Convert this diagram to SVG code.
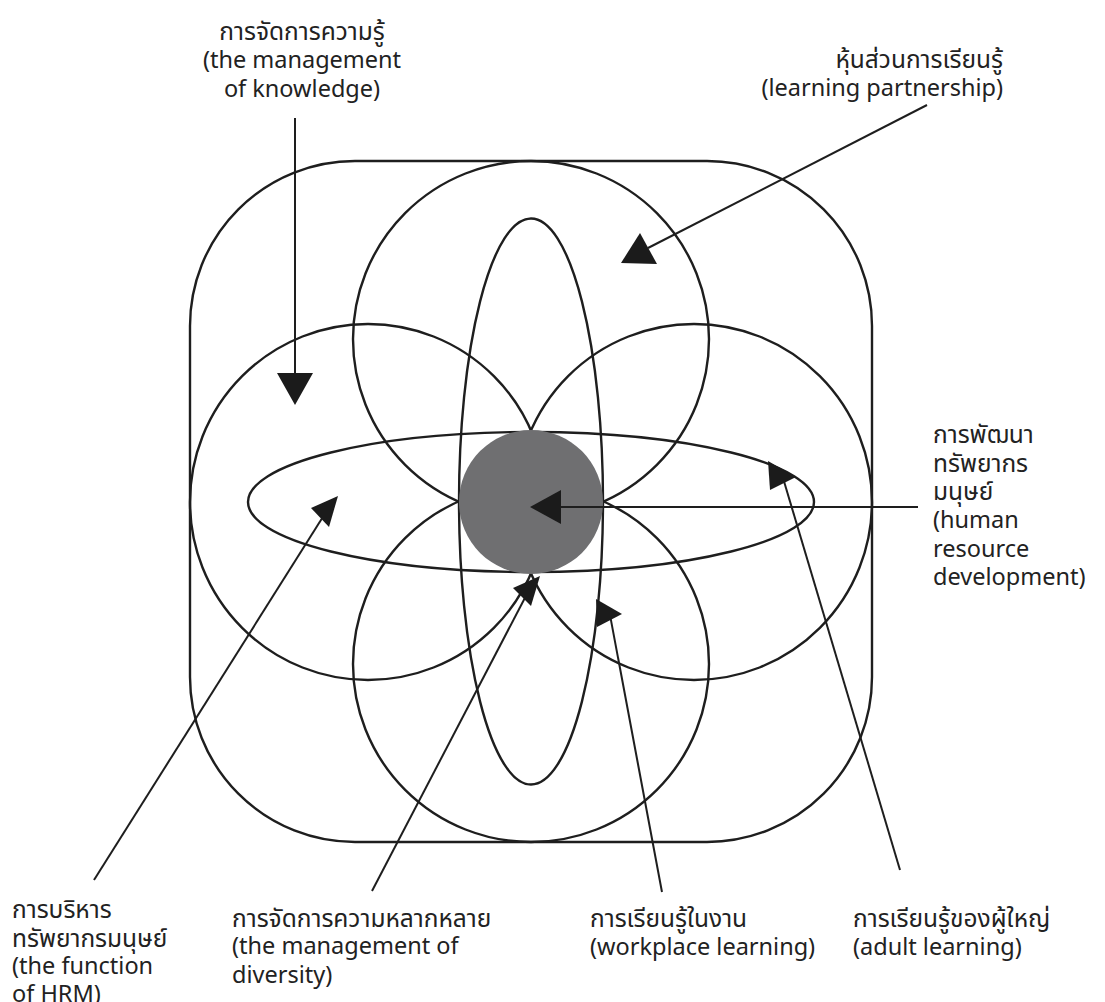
<svg xmlns="http://www.w3.org/2000/svg" width="1105" height="1002" viewBox="0 0 1105 1002">
<style>
.sh{fill:none;stroke:#1e1e1e;stroke-width:2.4}
.ln{stroke:#1e1e1e;stroke-width:2;fill:none}
.ah{fill:#1b1b1b}
text{font-family:"Noto Sans","Noto Sans Thai","Liberation Sans",sans-serif;font-size:23.5px;fill:#222}
.th{font-size:24.5px}
</style>
<rect width="1105" height="1002" fill="#fff"/>
<g id="frame"><rect class="sh" x="190" y="161" width="682" height="681" rx="165" ry="165"/></g>
<g id="circle-top"><circle class="sh" cx="531" cy="339" r="178"/></g>
<g id="circle-left"><circle class="sh" cx="368" cy="502" r="178"/></g>
<g id="circle-right"><circle class="sh" cx="694" cy="502" r="178"/></g>
<g id="circle-bottom"><circle class="sh" cx="531" cy="664" r="178"/></g>
<g id="ellipse-vertical"><ellipse class="sh" cx="531" cy="501.5" rx="72" ry="283"/></g>
<g id="ellipse-horizontal"><ellipse class="sh" cx="531" cy="502" rx="283" ry="70"/></g>
<g id="core"><circle cx="531" cy="502" r="72" fill="#6f6f71"/></g>
<g id="connectors">
<line class="ln" x1="295" y1="118" x2="295" y2="375"/>
<polygon class="ah" points="277,373 313,373 295,405"/>
<line class="ln" x1="927" y1="105" x2="648" y2="248"/>
<polygon class="ah" points="640,233 621,263 657,264"/>
<line class="ln" x1="918" y1="507" x2="558" y2="507"/>
<polygon class="ah" points="530,507 561,490 561,524"/>
<line class="ln" x1="94" y1="880" x2="326" y2="512"/>
<polygon class="ah" points="338,496 311,508 329,527"/>
<line class="ln" x1="372" y1="891" x2="528" y2="592"/>
<polygon class="ah" points="540,576 513,588 531,606"/>
<line class="ln" x1="662" y1="892" x2="610" y2="615"/>
<polygon class="ah" points="596,599 597,627 622,614"/>
<line class="ln" x1="900" y1="870" x2="783" y2="478"/>
<polygon class="ah" points="768,461 770,490 796,477"/>
</g>
<g id="label-knowledge" text-anchor="middle">
<text class="th" x="302" y="40">การจัดการความรู้</text>
<text x="302" y="68">(the management</text>
<text x="302" y="97">of knowledge)</text>
</g>
<g id="label-partnership" text-anchor="end">
<text class="th" x="1003" y="68">หุ้นส่วนการเรียนรู้</text>
<text x="1003" y="96">(learning partnership)</text>
</g>
<g id="label-hrd">
<text class="th" x="933" y="443">การพัฒนา</text>
<text class="th" x="933" y="472">ทรัพยากร</text>
<text class="th" x="933" y="500">มนุษย์</text>
<text x="933" y="528">(human</text>
<text x="933" y="557">resource</text>
<text x="933" y="585">development)</text>
</g>
<g id="label-hrm">
<text class="th" x="12" y="918">การบริหาร</text>
<text class="th" x="12" y="947">ทรัพยากรมนุษย์</text>
<text x="12" y="974">(the function</text>
<text x="12" y="1002">of HRM)</text>
</g>
<g id="label-diversity">
<text class="th" x="232" y="927">การจัดการความหลากหลาย</text>
<text x="232" y="954">(the management of</text>
<text x="232" y="983">diversity)</text>
</g>
<g id="label-workplace">
<text class="th" x="590" y="927">การเรียนรู้ในงาน</text>
<text x="590" y="955">(workplace learning)</text>
</g>
<g id="label-adult">
<text class="th" x="853" y="927">การเรียนรู้ของผู้ใหญ่</text>
<text x="853" y="955">(adult learning)</text>
</g>
</svg>
